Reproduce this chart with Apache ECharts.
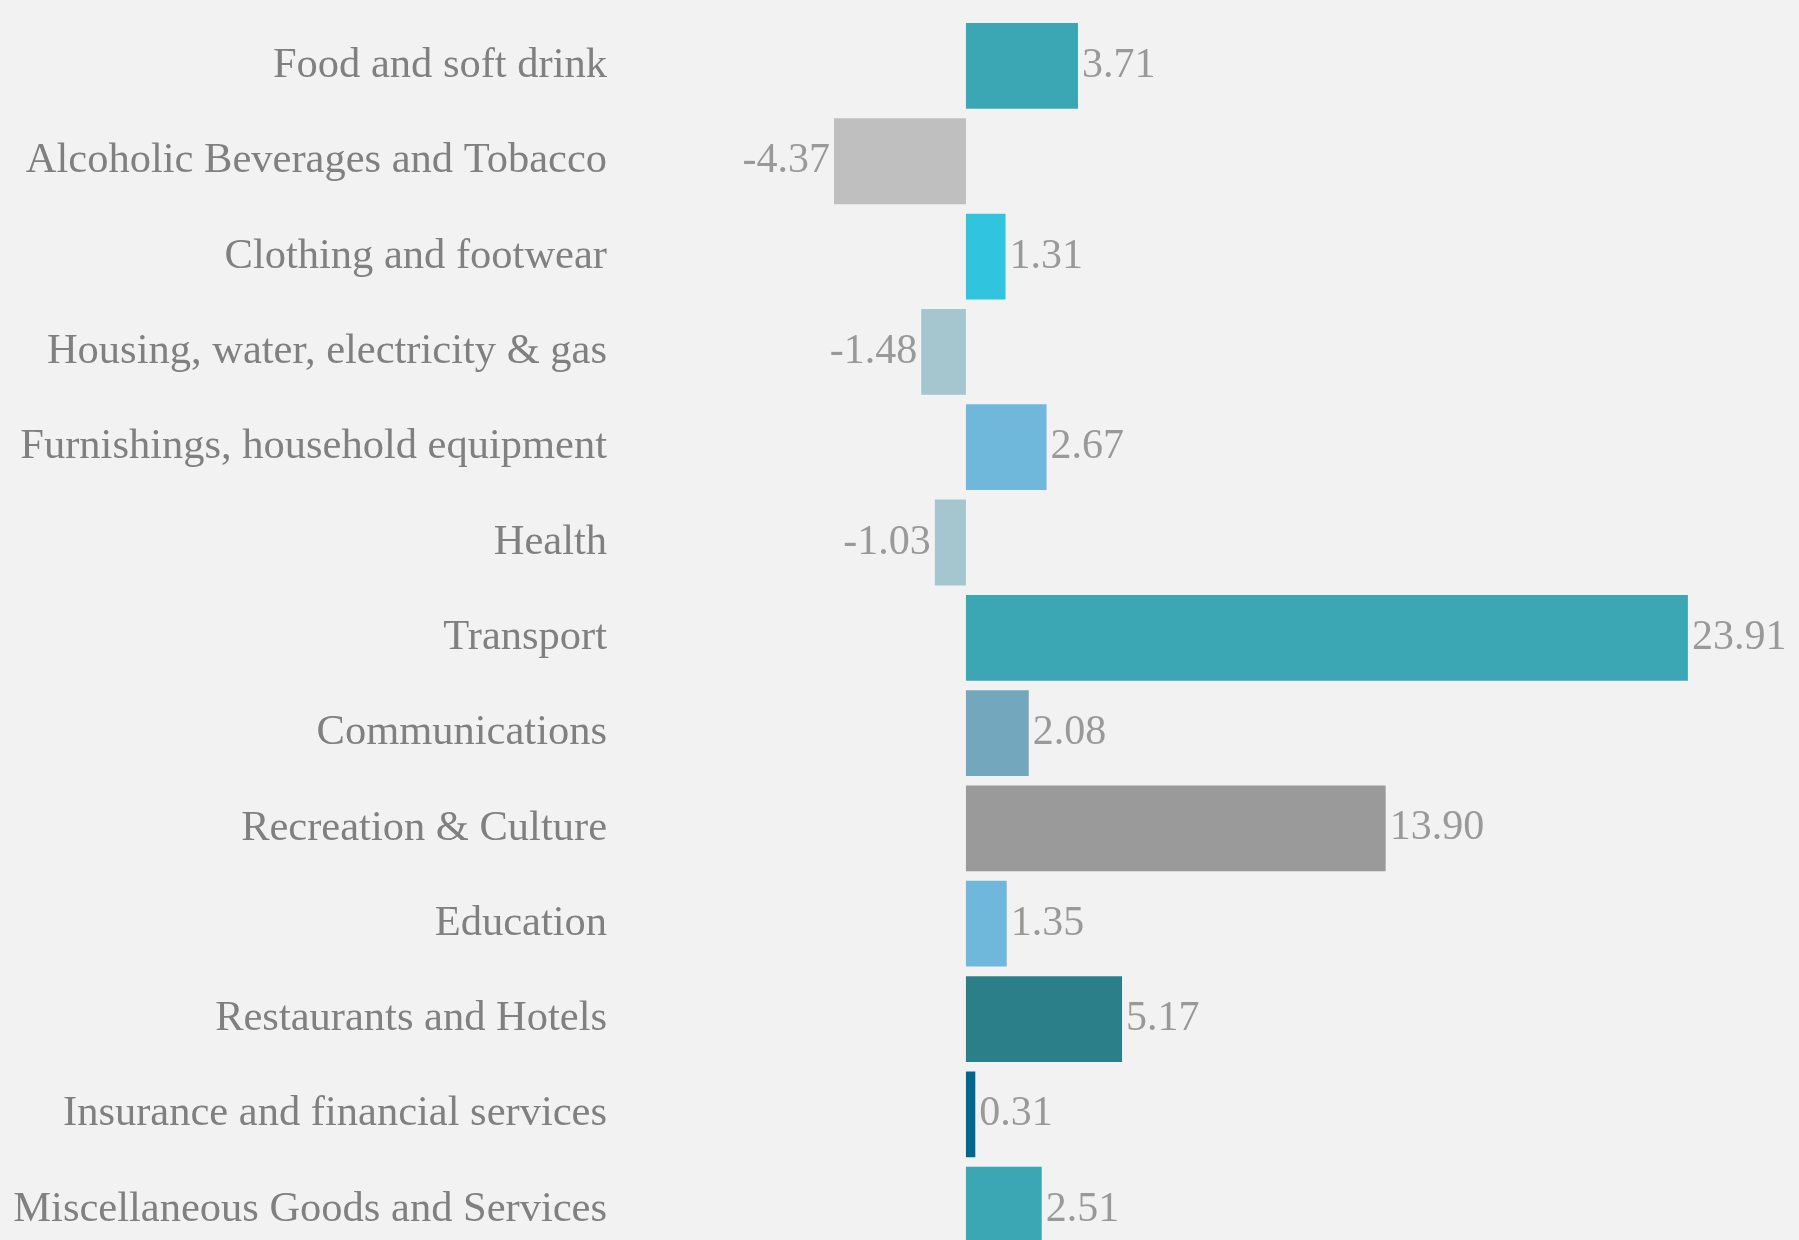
<!DOCTYPE html>
<html>
<head>
<meta charset="utf-8">
<script src="https://cdn.jsdelivr.net/npm/echarts@6/dist/echarts.min.js"></script>
<style>
html,body{margin:0;padding:0;background:#f2f2f2;overflow:hidden;}
#chart{width:1799px;height:1262px;}
</style>
</head>
<body>
<div id="chart"></div>
<script>
const categories = [
  "Food and soft drink",
  "Alcoholic Beverages and Tobacco",
  "Clothing and footwear",
  "Housing, water, electricity & gas",
  "Furnishings, household equipment",
  "Health",
  "Transport",
  "Communications",
  "Recreation & Culture",
  "Education",
  "Restaurants and Hotels",
  "Insurance and financial services",
  "Miscellaneous Goods and Services"
];
const values = [3.71, -4.37, 1.31, -1.48, 2.67, -1.03, 23.91, 2.08, 13.90, 1.35, 5.17, 0.31, 2.51];
const barColors = [
  "#3ba7b5", "#bfbfbf", "#31c4df", "#a5c6cf", "#70b8db", "#a5c6cf", "#3ba7b5",
  "#72a7bd", "#9a9a9a", "#70b8db", "#2b7f89", "#00678f", "#3ba7b5"
];

const chart = echarts.init(document.getElementById('chart'));
chart.setOption({
  backgroundColor: '#f2f2f2',
  animation: false,
  grid: { left: 664, width: 1087, top: 18.3, height: 1239, containLabel: false },
  xAxis: {
    type: 'value', min: -10, max: 26, show: false
  },
  yAxis: {
    type: 'category', data: categories, inverse: true,
    axisLine: { show: false }, axisTick: { show: false }, splitLine: { show: false },
    axisLabel: {
      margin: 57, fontFamily: 'Liberation Serif', fontSize: 42.5, color: '#808080',
      padding: [5, 0, 0, 0]
    }
  },
  series: [{
    type: 'bar',
    barCategoryGap: '10%',
    data: values.map((v, i) => ({
      value: v,
      itemStyle: v < 0
        ? { color: barColors[i], borderColor: '#f2f2f2', borderWidth: 0 }
        : { color: barColors[i] },
      label: { position: v < 0 ? 'left' : 'right' }
    })),
    label: {
      show: true, distance: 4,
      fontFamily: 'Liberation Serif', fontSize: 42, color: '#999999',
      formatter: p => p.value.toFixed(2)
    }
  }]
});
</script>
</body>
</html>
